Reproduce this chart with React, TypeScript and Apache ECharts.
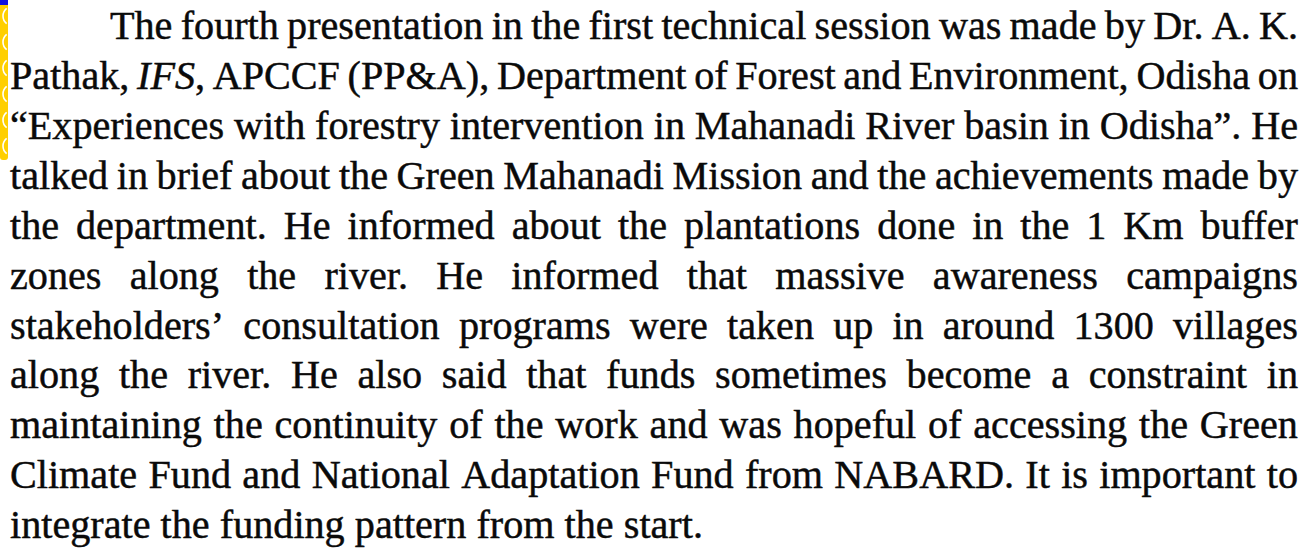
import React, { useEffect, useRef } from "react";
import * as echarts from "echarts";

// Paragraph lines as laid out in the reference (justified, last line ragged)
const lines: string[] = [
  "The fourth presentation in the first technical session was made by Dr. A. K.",
  "Pathak, *IFS*, APCCF (PP&A), Department of Forest and Environment, Odisha on",
  "\u201CExperiences with forestry intervention in Mahanadi River basin in Odisha\u201D. He",
  "talked in brief about the Green Mahanadi Mission and the achievements made by",
  "the department. He informed about the plantations done in the 1 Km buffer",
  "zones along the river. He informed that massive awareness campaigns",
  "stakeholders\u2019 consultation programs were taken up in around 1300 villages",
  "along the river. He also said that funds sometimes become a constraint in",
  "maintaining the continuity of the work and was hopeful of accessing the Green",
  "Climate Fund and National Adaptation Fund from NABARD. It is important to",
  "integrate the funding pattern from the start.",
];

const decorationArcs: number[] = [16, 42, 68, 94, 120, 146];

export default function App() {
  const ref = useRef<HTMLDivElement>(null);

  useEffect(() => {
    if (!ref.current) return;
    const chart = echarts.init(ref.current, null, { renderer: "svg" });

    const FAMILY = '"Liberation Serif", "Times New Roman", serif';
    const SIZE = 39;
    const LEFT = 10;
    const RIGHT = 1298;
    const INDENT = 110;
    const FIRST_BASELINE = 39;
    const LINE_GAP = 49.95;
    const LAST_LINE_END = 703;

    const canvas = document.createElement("canvas");
    const ctx = canvas.getContext("2d")!;
    const fontStr = (italic: boolean) => `${italic ? "italic " : ""}${SIZE}px ${FAMILY}`;
    const measure = (t: string, italic: boolean) => {
      ctx.font = fontStr(italic);
      return ctx.measureText(t).width;
    };

    type Seg = { t: string; italic: boolean };
    const parseWord = (w: string): Seg[] =>
      w
        .split(/(\*[^*]+\*)/)
        .filter((p) => p.length > 0)
        .map((p) =>
          p.startsWith("*") && p.endsWith("*")
            ? { t: p.slice(1, -1), italic: true }
            : { t: p, italic: false }
        );
    const wordWidth = (segs: Seg[]) => segs.reduce((a, s) => a + measure(s.t, s.italic), 0);

    const spaceW = measure(" ", false);
    const lastWords = lines[lines.length - 1].split(" ").map(parseWord);
    const lastNatural =
      lastWords.reduce((a, w) => a + wordWidth(w), 0) + spaceW * (lastWords.length - 1);
    const sx = (LAST_LINE_END - LEFT) / lastNatural;

    const graphics: any[] = [];

    lines.forEach((line, li) => {
      const words = line.split(" ").map(parseWord);
      const start = li === 0 ? INDENT : LEFT;
      const widths = words.map((w) => wordWidth(w) * sx);
      const total = widths.reduce((a, b) => a + b, 0);
      const isLast = li === lines.length - 1;
      const gap = isLast
        ? spaceW * sx
        : (RIGHT - start - total) / Math.max(1, words.length - 1);
      const baseline = FIRST_BASELINE + li * LINE_GAP;
      let x = start;
      words.forEach((segs, wi) => {
        let sxPos = x;
        segs.forEach((s) => {
          graphics.push({
            type: "text",
            x: sxPos,
            y: baseline - 13,
            scaleX: sx,
            silent: true,
            style: {
              text: s.t,
              font: fontStr(s.italic),
              fill: "#0a0a0a",
              stroke: "#0a0a0a",
              lineWidth: 0.45,
              align: "left",
              verticalAlign: "middle",
            },
          });
          sxPos += measure(s.t, s.italic) * sx;
        });
        x += widths[wi] + gap;
      });
    });

    // left margin decoration (yellow braided strip with blue corner)
    graphics.push({
      type: "rect",
      shape: { x: 0, y: 4, width: 8, height: 156, r: [0, 0, 3, 3] },
      style: { fill: "#ffcf00" },
      silent: true,
    });
    decorationArcs.forEach((cy) => {
      graphics.push({
        type: "arc",
        shape: { cx: 13, cy, r: 10, startAngle: Math.PI * 0.72, endAngle: Math.PI * 1.28 },
        style: { stroke: "#ffffff", lineWidth: 1.6, fill: null },
        silent: true,
      });
    });
    graphics.push({
      type: "rect",
      shape: { x: 0, y: 0, width: 8, height: 5 },
      style: { fill: "#1010e0" },
      silent: true,
    });

    chart.setOption({
      animation: false,
      backgroundColor: "#ffffff",
      graphic: graphics,
    });

    return () => chart.dispose();
  }, []);

  return (
    <div
      ref={ref}
      style={{ position: "fixed", left: 0, top: 0, width: 1308, height: 548, background: "#fff" }}
    />
  );
}
